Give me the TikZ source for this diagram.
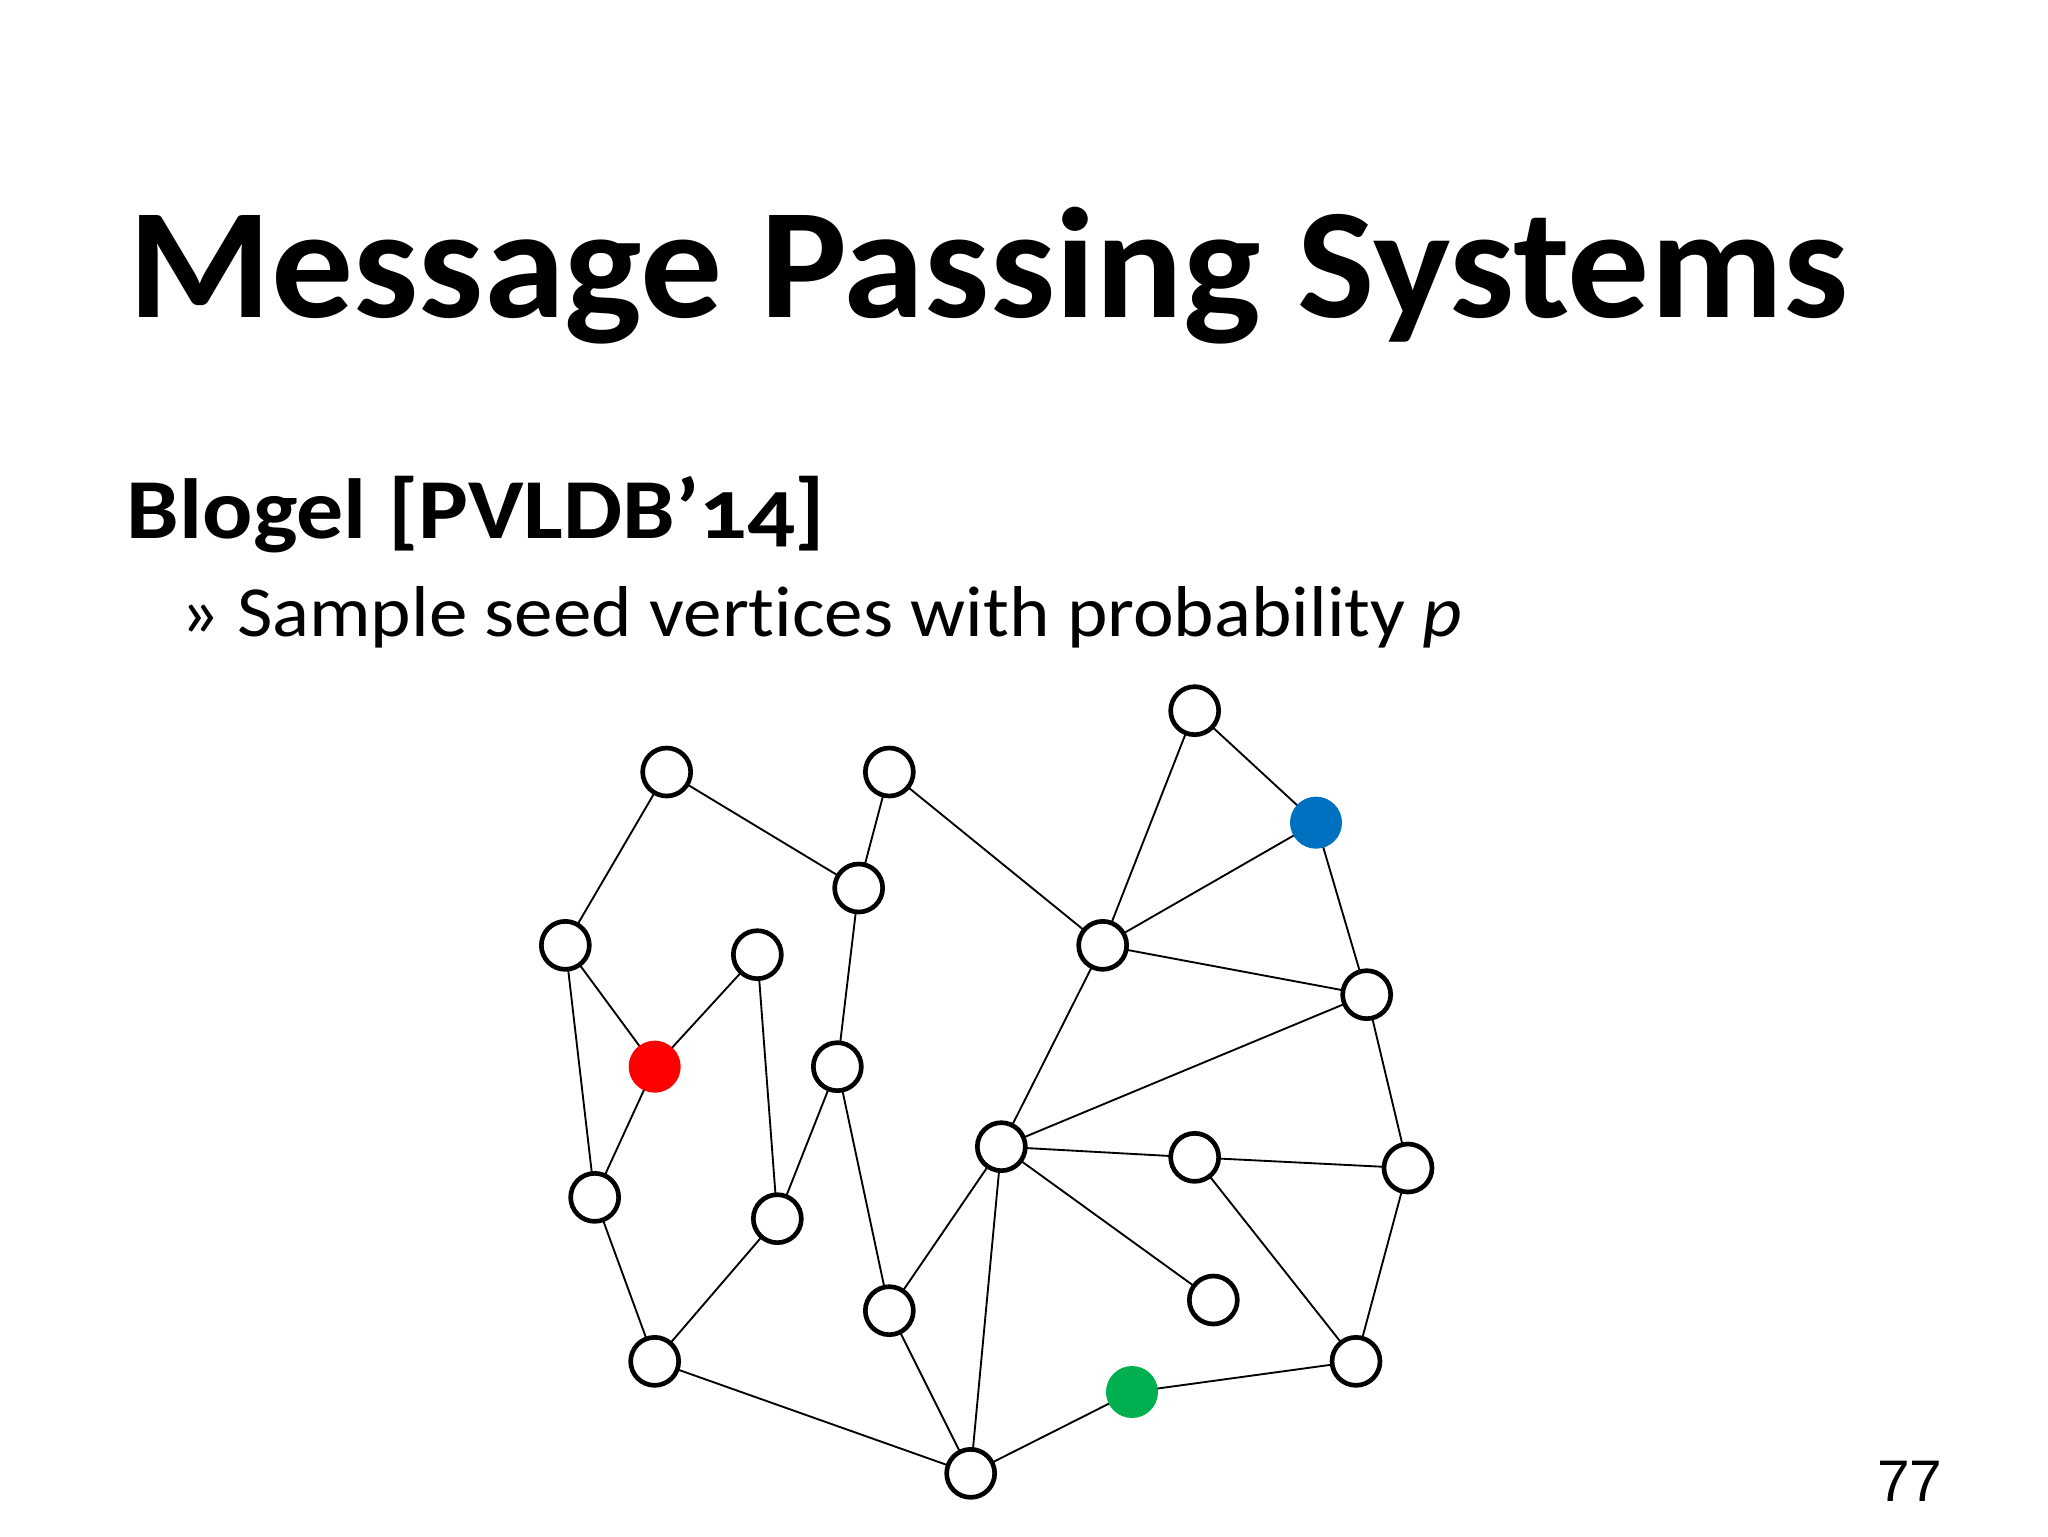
\documentclass[tikz,border=0pt]{standalone}
\usepackage{fontspec}
\setmainfont[Ligatures=NoCommon]{Carlito}
\newfontfamily\numfont{Liberation Sans}
\definecolor{sblue}{RGB}{0,112,192}
\definecolor{sred}{RGB}{255,0,0}
\definecolor{sgreen}{RGB}{0,176,80}
\begin{document}
\begin{tikzpicture}[x=1pt,y=-1pt,
  v/.style={circle,draw=black,line width=3.5pt,fill=white,minimum size=36pt,inner sep=0pt},
  sv/.style={circle,fill=#1,minimum size=39pt,inner sep=0pt},
  e/.style={line width=1.4pt}]
\useasboundingbox (0,0) rectangle (1536,1152);
\node[anchor=base west,inner sep=0pt,xscale=1.04,font=\bfseries\fontsize{118}{130}\selectfont] (title) at (96,238) {Message Passing Systems};
\node[anchor=base west,inner sep=0pt,xscale=1.1,font=\bfseries\fontsize{64}{70}\selectfont] (sub) at (95,404) {Blogel [PVLDB’{\addfontfeatures{Numbers=OldStyle}14}]};
\node[anchor=base west,inner sep=0pt,xscale=1.07,font=\fontsize{54}{60}\selectfont] (bul) at (135,477) {» Sample seed vertices with probability \textit{p}};
\node[anchor=base east,inner sep=0pt,font=\numfont\fontsize{44}{50}\selectfont] (num) at (1457,1126) {77};
\foreach \n/\x/\y in {a/500/579,b/667/579,c/896/533,d/644/666,e/424/709,f/568/716,g/827/709,h/1025/746,i/628/800,j/751/860,k/896/868,l/1056/876,m/446/898,n/583/914,o/910/975,p/667/983,q/491/1021,r/1017/1021,s/728/1105}
  \coordinate (\n) at (\x,\y);
\coordinate (bl) at (987,617);
\coordinate (rd) at (491,800);
\coordinate (gr) at (849,1044);
\foreach \u/\w in {a/e,a/d,b/d,b/g,c/g,c/bl,bl/g,bl/h,g/h,g/j,h/j,h/l,e/rd,e/m,f/rd,f/n,rd/m,d/i,i/n,i/p,m/q,n/q,q/s,j/k,j/o,j/p,j/s,k/l,k/r,l/r,r/gr,gr/s,p/s}
  \draw[e] (\u) -- (\w);
\foreach \n in {a,b,c,d,e,f,g,h,i,j,k,l,m,n,o,p,q,r,s}
  \node[v] at (\n) {};
\node[sv=sblue] at (bl) {};
\node[sv=sred] at (rd) {};
\node[sv=sgreen] at (gr) {};
\end{tikzpicture}
\end{document}
